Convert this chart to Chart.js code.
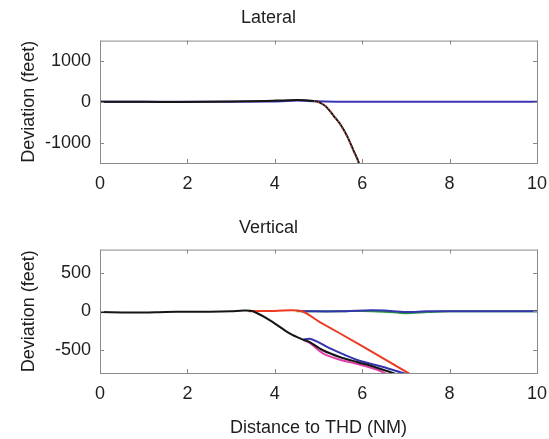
<!DOCTYPE html>
<html>
<head>
<meta charset="utf-8">
<script src="https://cdn.jsdelivr.net/npm/chart.js@4"></script>
<style>
  html, body { margin: 0; padding: 0; background: #fff; }
  #wrap { position: relative; width: 549px; height: 439px; overflow: hidden; }
  #lat { position: absolute; left: 0; top: 0; }
  #ver { position: absolute; left: 0; top: 205px; }
</style>
</head>
<body>
<div id="wrap">
  <canvas id="lat" width="549" height="205"></canvas>
  <canvas id="ver" width="549" height="234"></canvas>
</div>
<script>
// ── Axis ticks ──────────────────────────────────────────────────────
const X_TICKS   = [0, 2, 4, 6, 8, 10];
const LAT_TICKS = [-1000, 0, 1000];
const VER_TICKS = [-500, 0, 500];

// ── Lateral panel (distance NM -> deviation ft) ─────────────────────
const LAT_BLUE_X  = [0, 2, 4, 4.5, 4.9, 5.5, 6.5, 8, 10];
const LAT_BLUE_Y  = [0, 0, 5, 30, 15, 0, 0, 0, 0];
const LAT_BLACK_X = [0, 1, 1.8, 3, 3.8, 4.3, 4.7, 4.95, 5.1, 5.2, 5.35, 5.5, 5.65, 5.8, 5.9, 6.0];
const LAT_BLACK_Y = [0, 0, -5, 5, 20, 40, 40, 10, -60, -150, -350, -550, -830, -1190, -1430, -1750];
const LAT_RED_X   = [4.9, 5.1, 5.2, 5.35, 5.5, 5.65, 5.8, 5.9, 6.0];
const LAT_RED_Y   = [10, -50, -140, -340, -560, -840, -1200, -1450, -1760];

// ── Vertical panel ─────────────────────────────────────────────────
const VER_FLAT_X  = [4.6, 5.5, 6.2, 6.5, 7.0, 7.5, 8.5, 10];
const VER_FLAT_Y  = [0, 0, 15, 10, -10, 0, 0, 0];
const VER_GREEN_X = [4.5, 5.5, 6.0, 6.5, 7.0, 7.5, 8, 10];
const VER_GREEN_Y = [0, 0, 5, -5, -25, -10, 0, 0];
const VER_RED_X   = [3.4, 4.0, 4.6, 5.03, 6.0, 7.02, 7.2];
const VER_RED_Y   = [0, 5, 5, -139, -450, -790, -850];
const VER_BLUE_X  = [4.65, 4.8, 4.96, 5.26, 5.87, 6.48, 6.87, 7.1];
const VER_BLUE_Y  = [-368, -355, -390, -480, -628, -723, -790, -830];
const VER_PINK_X  = [4.65, 4.8, 5.11, 5.49, 5.87, 6.33, 6.55];
const VER_PINK_Y  = [-370, -410, -550, -628, -680, -755, -810];
const VER_BLACK_X = [0, 0.5, 1, 1.5, 2, 2.5, 3, 3.3, 3.5, 3.9, 4.35, 4.65, 4.8, 5.1, 5.5, 5.9, 6.25, 6.65, 7.0];
const VER_BLACK_Y = [-10, -15, -15, -8, -5, -5, 0, 10, 0, -120, -290, -368, -400, -505, -595, -660, -715, -790, -860];

const FONT = 'Liberation Sans, Arial, Helvetica, sans-serif';
const TXT  = '#1e1e1e';

function pts(xs, ys) { return xs.map((x, i) => ({ x, y: ys[i] })); }

function line(xs, ys, color, width, order, dash) {
  return {
    data: pts(xs, ys), borderColor: color, backgroundColor: color,
    borderWidth: width, borderDash: dash || [], pointRadius: 0,
    tension: 0.3, order, fill: false,
  };
}

// MATLAB style box with inward tick marks
const boxPlugin = {
  id: 'box',
  afterDatasetsDraw(chart) {
    const { ctx, chartArea: a, scales } = chart;
    ctx.save();
    ctx.strokeStyle = '#8a8a8a';
    ctx.lineWidth = 1;
    ctx.strokeRect(a.left + 0.5, a.top + 0.5, a.right - a.left, a.bottom - a.top);
    ctx.beginPath();
    scales.x.ticks.forEach(t => {
      const px = Math.round(scales.x.getPixelForValue(t.value)) + 0.5;
      ctx.moveTo(px, a.bottom); ctx.lineTo(px, a.bottom - 4);
      ctx.moveTo(px, a.top);    ctx.lineTo(px, a.top + 4);
    });
    scales.y.ticks.forEach(t => {
      const py = Math.round(scales.y.getPixelForValue(t.value)) + 0.5;
      ctx.moveTo(a.left, py);  ctx.lineTo(a.left + 4, py);
      ctx.moveTo(a.right, py); ctx.lineTo(a.right - 4, py);
    });
    ctx.stroke();
    ctx.restore();
  },
};

function makeChart(id, title, datasets, yRange, yTicks, opts) {
  return new Chart(document.getElementById(id), {
    type: 'line',
    data: { datasets },
    plugins: [boxPlugin],
    options: {
      responsive: false, animation: false,
      layout: { padding: { left: 0, right: 12, top: 0, bottom: 0 } },
      plugins: {
        legend: { display: false }, tooltip: { enabled: false },
        title: {
          display: true, text: title, color: TXT,
          font: { family: FONT, size: 18, weight: 'normal' },
          padding: opts.titlePad,
        },
      },
      scales: {
        x: {
          type: 'linear', min: 0, max: 10,
          afterBuildTicks: s => { s.ticks = X_TICKS.map(v => ({ value: v })); },
          afterFit: s => { s.height = opts.xHeight; s.paddingLeft = 0; s.paddingRight = 0; },
          grid: { display: false, drawTicks: false },
          border: { display: false },
          ticks: { color: TXT, font: { family: FONT, size: 18 }, padding: 10, maxRotation: 0,
                   callback: v => String(v) },
          title: opts.xTitle
            ? { display: true, text: opts.xTitle, color: TXT,
                font: { family: FONT, size: 18 }, padding: { top: 0, bottom: 0 } }
            : { display: false },
        },
        y: {
          min: yRange[0], max: yRange[1],
          afterBuildTicks: s => { s.ticks = yTicks.map(v => ({ value: v })); },
          afterFit: s => { s.width = 100; },
          grid: { display: false, drawTicks: false },
          border: { display: false },
          ticks: { color: TXT, font: { family: FONT, size: 18 }, padding: 9,
                   callback: v => String(v) },
          title: {
            display: true, text: 'Deviation (feet)', color: TXT,
            font: { family: FONT, size: 18 }, padding: { top: 18, bottom: 0 },
          },
        },
      },
    },
  });
}

makeChart('lat', 'Lateral', [
  line(LAT_BLUE_X,  LAT_BLUE_Y,  '#3b35b4', 2, 3),
  line(LAT_BLACK_X, LAT_BLACK_Y, '#151515', 2, 2),
  line(LAT_RED_X,   LAT_RED_Y,   '#e0502e', 2, 1, [1, 3]),
], [-1500, 1500], LAT_TICKS, { titlePad: { top: 7, bottom: 12 }, xHeight: 42 });

makeChart('ver', 'Vertical', [
  line(VER_GREEN_X, VER_GREEN_Y, '#2a9a3c', 2, 6),
  line(VER_FLAT_X,  VER_FLAT_Y,  '#3434b0', 2, 5),
  line(VER_RED_X,   VER_RED_Y,   '#ec3a22', 2, 4),
  line(VER_PINK_X,  VER_PINK_Y,  '#e040a8', 2, 3),
  line(VER_BLUE_X,  VER_BLUE_Y,  '#3434b0', 2, 2),
  line(VER_BLACK_X, VER_BLACK_Y, '#151515', 2, 1),
], [-800, 800], VER_TICKS,
  { titlePad: { top: 12, bottom: 11 }, xHeight: 66, xTitle: 'Distance to THD (NM)' });
</script>
</body>
</html>
